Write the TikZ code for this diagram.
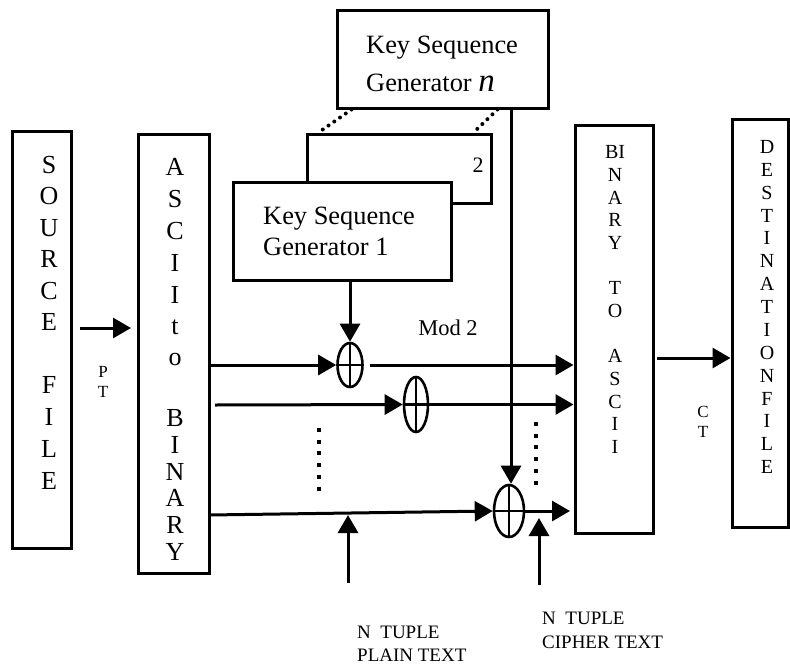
\documentclass[tikz,border=0pt]{standalone}
\usepackage{fontspec}
\setmainfont{Liberation Serif}
\usetikzlibrary{arrows.meta,shapes.geometric}
\newcommand\myfs[2]{\fontsize{#1}{#2}\selectfont}
\begin{document}
\begin{tikzpicture}[x=1pt,y=-1pt,
  box/.style={draw,line width=3pt,fill=white,inner sep=0},
  arr/.style={line width=3pt,-{Triangle[length=18pt,width=20pt]}},
  xorc/.style={draw,ellipse,line width=2.6pt,inner sep=0},
  bigl/.style={inner sep=0,font=\myfs{26}{30}},
  smalll/.style={inner sep=0,font=\myfs{20}{23}},
  ksgtext/.style={inner sep=0,anchor=base west,font=\myfs{26.4}{31}},
  lbl/.style={inner sep=0,font=\myfs{17}{20}},
  bot/.style={inner sep=0,anchor=west,font=\myfs{19}{23}},
  kdots/.style={line width=4pt,line cap=round,dash pattern=on 0pt off 7pt},
  vdots/.style={line width=4.5pt,dash pattern=on 4pt off 7.7pt}
]
\useasboundingbox (0,0) rectangle (790,664);

% boxes
\node[box,minimum width=59pt,minimum height=417pt] (src) at (41.5,339.5) {};
\node[box,minimum width=71pt,minimum height=439pt] (asc) at (173.5,353.5) {};
\node[box,minimum width=211pt,minimum height=98pt] (ksgn) at (442.5,59) {};
\node[box,minimum width=184pt,minimum height=69pt] (box2) at (399,168.5) {};
\node[box,minimum width=218pt,minimum height=98pt] (ksg1) at (342,231) {};
\node[box,minimum width=78pt,minimum height=408pt] (b2a) at (614,329) {};
\node[box,minimum width=56pt,minimum height=408pt] (dst) at (760,323) {};

% vertical letters
\foreach \l/\y [count=\i] in {S/165,O/196,U/228,R/259,C/291,E/322,F/385,I/417,L/449,E/481}
  \node[bigl] (s\i) at (49,\y) {\l};
\foreach \l/\y [count=\i] in {A/167,S/199,C/231,I/263,I/295,t/327,o/359,B/418,I/445,N/472,A/498,R/525,Y/552}
  \node[bigl] (a\i) at (175,\y) {\l};
\foreach \l/\y [count=\i] in {BI/152,N/174.7,A/197.4,R/220.1,Y/242.8,T/288.2,O/310.9,A/356.3,S/379,C/401.7,I/424.4,I/447.1}
  \node[smalll] (b\i) at (615,\y) {\l};
\foreach \l/\y [count=\i] in {D/147,E/169.9,S/192.7,T/215.6,I/238.4,N/261.3,A/284.2,T/307,I/329.9,O/352.7,N/375.6,F/398.5,I/421.3,L/444.2,E/467}
  \node[smalll] (d\i) at (767,\y) {\l};

% key sequence generator texts
\node[ksgtext] (kn1) at (366,53) {Key Sequence};
\node[ksgtext] (kn2) at (366,91) {Generator {\myfs{33}{33}\itshape n}};
\node[ksgtext] (k11) at (263,224) {Key Sequence};
\node[ksgtext] (k12) at (263,255) {Generator 1};
\node[inner sep=0,font=\myfs{22}{26}] (two) at (478,165) {2};

% dotted links between generators
\draw[kdots] ([xshift=16pt]ksgn.south west) -- ([xshift=13pt]box2.north west);
\draw[kdots] ([xshift=-52pt]ksgn.south east) -- ([xshift=-19pt]box2.north east);

% xor gates
\node[xorc,minimum width=25pt,minimum height=44pt] (c1) at (350,365) {};
\node[xorc,minimum width=24pt,minimum height=55pt] (c2) at (416,404.5) {};
\node[xorc,minimum width=30pt,minimum height=52pt] (c3) at (509,511) {};
\foreach \c in {c1,c2,c3}{
  \draw[line width=2.2pt] (\c.north) -- (\c.south);
  \draw[line width=2.2pt] (\c.west) -- (\c.east);
}

% coordinates for free ends
\coordinate (ptS) at (80,328);
\coordinate (ptE) at (131,328);
\coordinate (l2) at (215,405);
\coordinate (l3) at (209,515);
\coordinate (kn) at (511,108);
\coordinate (u1) at (348,583);
\coordinate (u2) at (539,585);
\coordinate (u2t) at (539,518);
\coordinate (ct) at (657,358);
\coordinate (c3e) at (570,511);

% connectors
\draw[arr] (ptS) -- (ptE);
\draw[arr] (asc.east |- c1) -- (c1.west);
\draw[arr] ([xshift=6pt]c1.east) -- (b2a.west |- c1);
\draw[arr] (l2) -- (c2.west);
\draw[arr] (c2.east) -- (b2a.west |- c2);
\draw[arr] (l3) -- (c3.west);
\draw[arr] (c3.east) -- (c3e);
\draw[arr] (ksg1.south -| c1) -- (c1.north);
\draw[arr] (kn) -- (kn |- c3.north);
\draw[arr] (u1) -- (u1 |- l3);
\draw[arr] (u2) -- (u2t);
\draw[arr] (ct) -- (dst.west |- ct);

% vertical ellipsis dots
\coordinate (v1a) at (319,428);
\coordinate (v1b) at (319,495);
\coordinate (v2a) at (536,422);
\coordinate (v2b) at (536,487);
\draw[vdots] (v1a) -- (v1b);
\draw[vdots] (v2a) -- (v2b);

% labels
\node[inner sep=0,font=\myfs{22.5}{26}] (mod) at (448,328) {Mod 2};
\node[lbl] (p1) at (103,372) {P};
\node[lbl] (p2) at (103,392) {T};
\node[lbl] (ct1) at (703,412) {C};
\node[lbl] (ct2) at (703,432) {T};
\node[bot] (np1) at (357,632) {N\ \ TUPLE};
\node[bot] (np2) at (357,655) {PLAIN TEXT};
\node[bot] (nc1) at (542,618) {N\ \ TUPLE};
\node[bot] (nc2) at (542,642) {CIPHER TEXT};
\end{tikzpicture}
\end{document}
